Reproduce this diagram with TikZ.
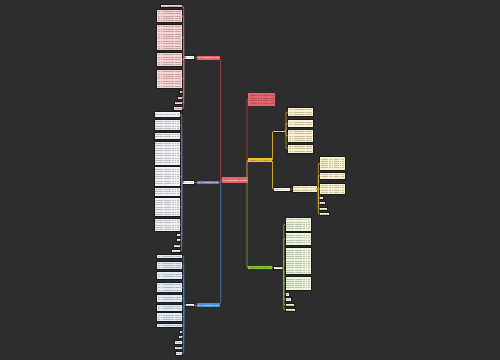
\documentclass[tikz,border=0pt]{standalone}
\usepackage{tikz}
\definecolor{bg}{HTML}{2D2D2D}
\definecolor{redn}{HTML}{E4646B}
\definecolor{pinkf}{HTML}{F7D3D3}
\definecolor{purn}{HTML}{7E6DB6}
\definecolor{purf}{HTML}{F1F0F4}
\definecolor{blun}{HTML}{4A8FD0}
\definecolor{bluf}{HTML}{E2EDF8}
\definecolor{yeln}{HTML}{F1C232}
\definecolor{yelf}{HTML}{FBF1CF}
\definecolor{grnn}{HTML}{8CC43F}
\definecolor{grnf}{HTML}{EDF5DC}
\definecolor{redl}{HTML}{B9474E}
\definecolor{purl}{HTML}{7E6DB6}
\definecolor{blul}{HTML}{3F82C2}
\definecolor{yell}{HTML}{C9A52C}
\definecolor{grnl}{HTML}{7DB33A}
\tikzset{
  cbox/.style={rectangle, draw=black!90, line width=0.5pt, inner sep=0pt, outer sep=0pt},
  pinkbox/.style={cbox, fill=pinkf},
  purbox/.style={cbox, fill=purf},
  blubox/.style={cbox, fill=bluf},
  yelbox/.style={cbox, fill=yelf},
  grnbox/.style={cbox, fill=grnf},
  whitebox/.style={cbox, fill=white},
  rednode/.style={cbox, draw=none, fill=redn},
  purnode/.style={cbox, draw=none, fill=purn},
  blunode/.style={cbox, draw=none, fill=blun},
  yelnode/.style={cbox, draw=none, fill=yeln},
  grnnode/.style={cbox, draw=none, fill=grnn},
  tl/.style={draw=black, opacity=0.22, dash pattern=on 2.2pt off 0.5pt on 1.5pt off 0.5pt on 3pt off 0.6pt},
  tlw/.style={draw=white, opacity=0.45, dash pattern=on 2.2pt off 0.5pt on 1.5pt off 0.5pt on 3pt off 0.6pt},
  conn/.style={line width=0.8pt, rounded corners=1.2pt},
}
% #1 name, #2 x1, #3 y1, #4 x2, #5 y2, #6 box style, #7 text-line style
\newcommand\mmbox[7]{%
  \node[#6, anchor=north west, minimum width={(#4)-(#2)}, minimum height={(#5)-(#3)}] (#1) at (#2,#3) {};
  \pgfmathtruncatemacro\mmnl{max(1,floor(((#5)-(#3)-1.2)/2.3))}%
  \pgfmathsetmacro\mmsp{((#5)-(#3)-2.2)/\mmnl}%
  \foreach \k in {1,...,\mmnl}{%
    \pgfmathsetmacro\mmyy{#3+1.1+(\k-0.5)*\mmsp}%
    \draw[#7, line width=0.65pt] ({#2+1.3},\mmyy) -- ({#4-1.3},\mmyy);
  }%
}
\begin{document}
\begin{tikzpicture}[x=1pt,y=-1pt]
\fill[bg] (0,0) rectangle (500,360);
\useasboundingbox (0,0) rectangle (500,360);

% center
\mmbox{center}{221.7}{177.3}{248.3}{182.7}{rednode}{tlw}

% ---------- red branch (left top)
\mmbox{rnode}{196.7}{55.7}{220}{59.5}{rednode}{tlw}
\mmbox{rw}{184.6}{55.3}{194.3}{59}{whitebox}{tl}
\mmbox{r1}{160.7}{4.7}{182.7}{7.7}{pinkbox}{tl}
\mmbox{r2}{156.7}{9.3}{182.7}{22.7}{pinkbox}{tl}
\mmbox{r3}{156.7}{24.3}{182.7}{50.7}{pinkbox}{tl}
\mmbox{r4}{156.7}{52.3}{182.7}{66.7}{pinkbox}{tl}
\mmbox{r5}{156.7}{69.3}{182.7}{88.3}{pinkbox}{tl}
\mmbox{r6}{179.3}{90.7}{182.7}{93.5}{pinkbox}{tl}
\mmbox{r7}{177.7}{96}{182.7}{99}{pinkbox}{tl}
\mmbox{r8}{174.3}{101.3}{182.7}{104.3}{pinkbox}{tl}
\mmbox{r9}{173.3}{106.7}{182.7}{110}{pinkbox}{tl}
\draw[conn, redl] (center.west) -| ([xshift=0.7pt]rnode.south east);
\draw[conn, redl] (rnode.west) -- (rw.east);
\foreach \b in {r1,r2,r3,r4,r5,r6,r7,r8,r9}
  \draw[conn, redl!70!pinkf] (rw.west) -- ([xshift=-0.9pt]rw.west) |- (\b.east);

% ---------- purple branch (left middle)
\mmbox{pnode}{196.7}{181}{219.3}{184.2}{purnode}{tlw}
\mmbox{pw}{182.6}{180.7}{194.3}{184}{whitebox}{tl}
\mmbox{p1}{154}{111.7}{180.7}{117.3}{purbox}{tl}
\mmbox{p2}{154}{119}{180.7}{130.7}{purbox}{tl}
\mmbox{p3}{154}{132.3}{180.7}{139}{purbox}{tl}
\mmbox{p4}{154}{141}{180.7}{165}{purbox}{tl}
\mmbox{p5}{154}{166.7}{180.7}{186}{purbox}{tl}
\mmbox{p6}{154}{187.3}{180.7}{196}{purbox}{tl}
\mmbox{p7}{154}{197.7}{180.7}{216.7}{purbox}{tl}
\mmbox{p8}{154}{218.3}{180.7}{231.7}{purbox}{tl}
\mmbox{p9}{176.7}{232.9}{180.7}{236}{purbox}{tl}
\mmbox{p10}{176.7}{238.4}{180.7}{241.7}{purbox}{tl}
\mmbox{p11}{173.3}{244}{180.7}{247.3}{purbox}{tl}
\mmbox{p12}{171.7}{249.3}{180.7}{252.7}{purbox}{tl}
\draw[conn, purl] (center.west) -- (pnode.east);
\draw[conn, purl] (pnode.west) -- (pw.east);
\foreach \b in {p1,p2,p3,p4,p5,p6,p7,p8,p9,p10,p11,p12}
  \draw[conn, purl] (pw.west) -- ([xshift=-0.9pt]pw.west) |- (\b.east);

% ---------- blue branch (left bottom)
\mmbox{bnode}{196.7}{303.3}{220}{306.7}{blunode}{tlw}
\mmbox{bw}{185}{303.3}{194.3}{306.7}{whitebox}{tl}
\mmbox{b1}{156.7}{254.3}{182.7}{258.3}{blubox}{tl}
\mmbox{b2}{156.7}{261}{182.7}{269.3}{blubox}{tl}
\mmbox{b3}{156.7}{271.7}{182.7}{279}{blubox}{tl}
\mmbox{b4}{156.7}{282.3}{182.7}{292.3}{blubox}{tl}
\mmbox{b5}{156.7}{294.3}{182.7}{302.3}{blubox}{tl}
\mmbox{b6}{156.7}{304.3}{182.7}{311}{blubox}{tl}
\mmbox{b7}{156.7}{312.7}{182.7}{321}{blubox}{tl}
\mmbox{b8}{156.7}{323.3}{182.7}{327.7}{blubox}{tl}
\mmbox{b9}{179.3}{330}{182.7}{332.9}{blubox}{tl}
\mmbox{b10}{178.3}{335}{182.7}{338.3}{blubox}{tl}
\mmbox{b11}{174.3}{340.7}{182.7}{344}{blubox}{tl}
\mmbox{b12}{174.3}{346}{182.7}{349.3}{blubox}{tl}
\mmbox{b13}{175}{351.7}{182.7}{355}{blubox}{tl}
\draw[conn, blul] (center.west) -| ([xshift=0.7pt]bnode.north east);
\draw[conn, blul] (bnode.west) -- (bw.east);
\foreach \b in {b1,b2,b3,b4,b5,b6,b7,b8,b9,b10,b11,b12,b13}
  \draw[conn, blul] (bw.west) -- ([xshift=-1.3pt]bw.west) |- (\b.east);

% ---------- right side: description box
\mmbox{desc}{248.3}{93.3}{275}{105.7}{rednode}{tl}
\draw[conn, redl] ([xshift=-1.3pt]center.north east) |- (desc.west);

% ---------- yellow branch
\mmbox{ynode}{248.3}{158.3}{271.7}{162.3}{yelnode}{tl}
\mmbox{yA}{273.3}{130}{285}{132.6}{whitebox}{tl}
\mmbox{ya1}{287.7}{107.3}{313.3}{116.7}{yelbox}{tl}
\mmbox{ya2}{287.7}{119.3}{313.3}{127.3}{yelbox}{tl}
\mmbox{ya3}{287.7}{129.3}{313.3}{142.7}{yelbox}{tl}
\mmbox{ya4}{287.7}{144.3}{313.3}{153.3}{yelbox}{tl}
\mmbox{yB}{273.3}{186.9}{290.7}{191.5}{whitebox}{tl}
\mmbox{yC}{292}{185}{317.3}{192.7}{yelbox}{tl}
\mmbox{yc1}{319.3}{156.7}{345}{170}{yelbox}{tl}
\mmbox{yc2}{319.3}{172.3}{345}{179}{yelbox}{tl}
\mmbox{yc3}{319.3}{183.3}{345}{194.3}{yelbox}{tl}
\mmbox{yc4}{319.3}{196.7}{323.3}{199.5}{yelbox}{tl}
\mmbox{yc5}{319.3}{201.7}{325}{204.5}{yelbox}{tl}
\mmbox{yc6}{319.3}{207.3}{327.3}{210.7}{yelbox}{tl}
\mmbox{yc7}{319.3}{212.3}{329.3}{215.7}{yelbox}{tl}
\draw[conn, yell] ([xshift=-1.3pt]center.north east) |- (ynode.west);
\draw[conn, yell] (ynode.east) -- ([xshift=0.7pt]ynode.east) |- (yA.west);
\draw[conn, yell] (ynode.east) -- ([xshift=0.7pt]ynode.east) |- (yB.west);
\foreach \b in {ya1,ya2,ya3,ya4}
  \draw[conn, yell] (yA.east) -- ([xshift=1pt]yA.east) |- (\b.west);
\draw[conn, yell] (yB.east) -- (yC.west);
\foreach \b in {yc1,yc2,yc3,yc4,yc5,yc6,yc7}
  \draw[conn, yell] (yC.east) -- ([xshift=0.9pt]yC.east) |- (\b.west);

% ---------- green branch
\mmbox{gnode}{248.3}{266}{271.7}{269.3}{grnnode}{tl}
\mmbox{gw}{273.3}{266}{282.7}{269.3}{whitebox}{tl}
\mmbox{g1}{285}{217.3}{311}{231}{grnbox}{tl}
\mmbox{g2}{285}{232.7}{311}{245}{grnbox}{tl}
\mmbox{g3}{285}{247.7}{311}{274.3}{grnbox}{tl}
\mmbox{g4}{285}{276.7}{311}{290}{grnbox}{tl}
\mmbox{g5}{285}{292.7}{289.3}{296}{grnbox}{tl}
\mmbox{g6}{285}{297.7}{291.7}{301}{grnbox}{tl}
\mmbox{g7}{285}{303.3}{294}{306.7}{grnbox}{tl}
\mmbox{g8}{285}{308.3}{295}{311.7}{grnbox}{tl}
\draw[conn, grnl] ([xshift=-1.3pt]center.south east) |- (gnode.west);
\draw[conn, grnl] (gnode.east) -- (gw.west);
\foreach \b in {g1,g2,g3,g4,g5,g6,g7,g8}
  \draw[conn, grnl] (gw.east) -- ([xshift=1pt]gw.east) |- (\b.west);
\end{tikzpicture}
\end{document}
